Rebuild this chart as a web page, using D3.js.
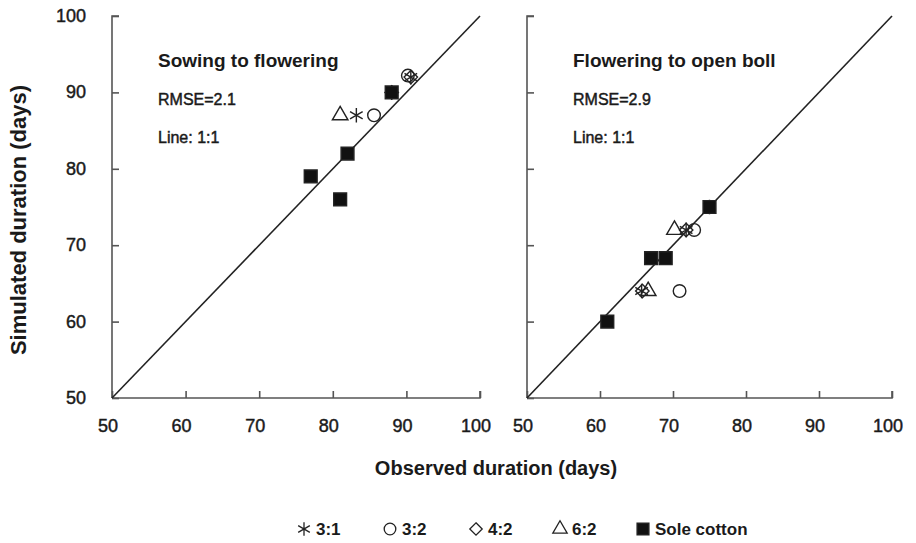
<!DOCTYPE html>
<html>
<head>
<meta charset="utf-8">
<script src="https://cdn.jsdelivr.net/npm/d3@7"></script>
<style>
  body { margin: 0; background: #fff; }
  text { font-family: "Liberation Sans", Arial, sans-serif; fill: #1a1a1a; }
  .med { stroke: #1a1a1a; stroke-width: 0.45px; }
</style>
</head>
<body>
<div id="chart"></div>
<script>
// tick values shared by both panels
const ticks = [50, 60, 70, 80, 90, 100];

// left panel: sowing to flowering  [observed, simulated]
const left31 = [[83.2, 87], [88, 90], [90.6, 92]];
const left32 = [[85.6, 87], [90.2, 92.2]];
const left42 = [[90.6, 92], [88, 90]];
const left62 = [[81, 87]];
const leftSole = [[77, 79], [81, 76], [82, 82], [88, 90]];

// right panel: flowering to open boll
const right31 = [[65.7, 64], [71.8, 72], [75, 75]];
const right32 = [[70.9, 64], [72.9, 72]];
const right42 = [[71.8, 72], [65.8, 64]];
const right62 = [[70.2, 72], [66.6, 64]];
const rightSole = [[61, 60], [67, 68.3], [69, 68.3], [75, 75]];

const legendLabels = ["3:1", "3:2", "4:2", "6:2", "Sole cotton"];

const width = 916, height = 543;
const svg = d3.select("#chart").append("svg")
    .attr("width", width)
    .attr("height", height);

const axisColor = "#555";
const diamond = d3.symbolDiamond2 || d3.symbolDiamond;
const asterisk = d3.symbolAsterisk || d3.symbolCross;

const markers = [
    {type: asterisk, size: 150, fill: "none"},
    {type: d3.symbolCircle, size: 125, fill: "none"},
    {type: diamond, size: 115, fill: "none"},
    {type: d3.symbolTriangle, size: 105, fill: "none"},
    {type: d3.symbolSquare, size: 165, fill: "#111"}
];

function drawPanel(x0, x1, seriesList, title, rmse, showYLabels) {
    const x = d3.scaleLinear().domain([50, 100]).range([x0, x1]);
    const y = d3.scaleLinear().domain([50, 100]).range([398, 16]);
    const g = svg.append("g");

    const xAxis = g.append("g")
        .attr("transform", `translate(0,${y(50)})`)
        .call(d3.axisTop(x).tickValues(ticks).tickSize(7).tickFormat(""));
    xAxis.select(".domain").attr("d", `M${x0},0H${x1}V-7`);

    const yAxis = g.append("g")
        .attr("transform", `translate(${x(50)},0)`)
        .call(d3.axisRight(y).tickValues(ticks).tickSize(7).tickFormat(""));
    yAxis.select(".domain").attr("d", `M7,${y(100)}H0V${y(50)}`);

    g.selectAll(".domain, .tick line")
        .attr("stroke", axisColor)
        .attr("stroke-width", 1.6);

    // x tick labels
    g.selectAll(".xlab").data(ticks).enter().append("text")
        .attr("class", "med")
        .attr("x", d => x(d) - 4)
        .attr("y", 432)
        .attr("text-anchor", "middle")
        .style("font-size", "18px")
        .text(d => d);

    if (showYLabels) {
        g.selectAll(".ylab").data(ticks).enter().append("text")
            .attr("class", "med")
            .attr("x", 86)
            .attr("y", d => y(d) + 6)
            .attr("text-anchor", "end")
            .style("font-size", "18px")
            .text(d => d);
    }

    // 1:1 line
    g.append("line")
        .attr("x1", x(50)).attr("y1", y(50))
        .attr("x2", x(100)).attr("y2", y(100))
        .attr("stroke", "#222")
        .attr("stroke-width", 1.6);

    const tx = x0 + 46;
    g.append("text").attr("x", tx).attr("y", 67)
        .style("font-size", "19px").style("font-weight", "bold").text(title);
    g.append("text").attr("class", "med").attr("x", tx).attr("y", 105)
        .style("font-size", "16px").text("RMSE=" + rmse);
    g.append("text").attr("class", "med").attr("x", tx).attr("y", 143)
        .style("font-size", "16px").text("Line: 1:1");

    seriesList.forEach((pts, i) => {
        const m = markers[i];
        g.selectAll(null).data(pts).enter().append("path")
            .attr("transform", d => `translate(${x(d[0])},${y(d[1])})`)
            .attr("d", d3.symbol().type(m.type).size(m.size))
            .attr("fill", m.fill)
            .attr("stroke", "#222")
            .attr("stroke-width", 1.4);
    });
}

drawPanel(112, 480, [left31, left32, left42, left62, leftSole],
    "Sowing to flowering", "2.1", true);
drawPanel(527, 892, [right31, right32, right42, right62, rightSole],
    "Flowering to open boll", "2.9", false);

// axis titles
svg.append("text")
    .attr("x", 496).attr("y", 475)
    .attr("text-anchor", "middle")
    .style("font-size", "20px").style("font-weight", "bold")
    .text("Observed duration (days)");

svg.append("text")
    .attr("transform", "translate(26,220) rotate(-90)")
    .attr("text-anchor", "middle")
    .style("font-size", "22px").style("font-weight", "bold")
    .text("Simulated duration (days)");

// legend
const legendX = [304, 390, 476, 560, 643];
const legend = svg.append("g");
legendLabels.forEach((lab, i) => {
    const m = markers[i];
    legend.append("path")
        .attr("transform", `translate(${legendX[i]},${529})`)
        .attr("d", d3.symbol().type(m.type).size(m.size * 0.85))
        .attr("fill", m.fill)
        .attr("stroke", "#222")
        .attr("stroke-width", 1.3);
    legend.append("text")
        .attr("x", legendX[i] + 12).attr("y", 535)
        .style("font-size", "17px").style("font-weight", "bold")
        .text(lab);
});
</script>
</body>
</html>
